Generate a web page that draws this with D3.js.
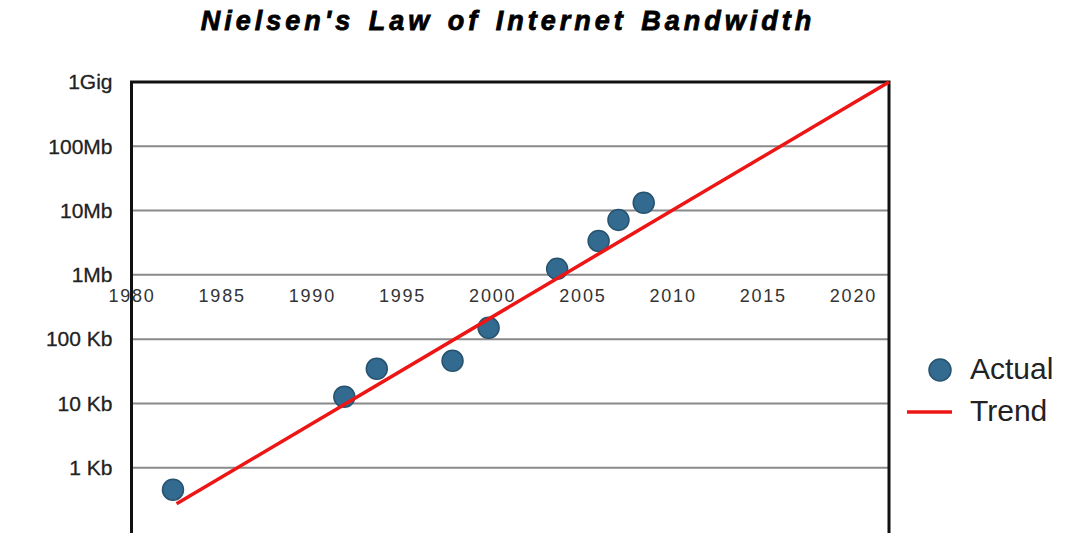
<!DOCTYPE html>
<html>
<head>
<meta charset="utf-8">
<script src="https://cdn.jsdelivr.net/npm/d3@7"></script>
<style>
  html, body { margin: 0; padding: 0; background: #fff; }
  svg { display: block; }
</style>
</head>
<body>
<svg id="chart" width="1074" height="533"></svg>
<script>
// ---- data ----
const actualYears  = [1982.3, 1991.8, 1993.6, 1997.8, 1999.8, 2003.6, 2005.9, 2007.0, 2008.4];
const actualValues = [455, 12700, 34600, 46000, 150000, 1240000, 3370000, 7160000, 13200000];
const trendYears   = [1982.5, 2022];
const trendValues  = [275, 1e9];
const yTickValues  = [1e3, 1e4, 1e5, 1e6, 1e7, 1e8, 1e9];
const yTickLabels  = ["1 Kb", "10 Kb", "100 Kb", "1Mb", "10Mb", "100Mb", "1Gig"];
const xTickValues  = [1980, 1985, 1990, 1995, 2000, 2005, 2010, 2015, 2020];
const titleText    = "Nielsen's Law of Internet Bandwidth";
const legendLabels = ["Actual", "Trend"];

// ---- layout ----
const svg = d3.select("#chart");
const plot = { left: 131.5, right: 889, top: 82, bottom: 532 };

const x = d3.scaleLinear().domain([1980, 2022]).range([plot.left, plot.right]);
const y = d3.scaleLog().domain([100, 1e9]).range([plot.bottom, plot.top]);

// gridlines
svg.append("g")
  .selectAll("line")
  .data(yTickValues.slice(0, -1))
  .join("line")
  .attr("x1", plot.left).attr("x2", plot.right)
  .attr("y1", d => y(d)).attr("y2", d => y(d))
  .attr("stroke", "#8a8a8a").attr("stroke-width", 2);

// y axis
const yAxis = d3.axisLeft(y)
  .tickValues(yTickValues)
  .tickFormat((d, i) => yTickLabels[i])
  .tickSize(0).tickPadding(19);
const gy = svg.append("g").attr("transform", `translate(${plot.left},0)`).call(yAxis);
gy.select(".domain").remove();
gy.selectAll("text")
  .attr("font-family", "Liberation Sans, Arial, sans-serif")
  .attr("font-size", 21)
  .attr("letter-spacing", 0)
  .attr("stroke", "#222").attr("stroke-width", 0.3)
  .attr("fill", "#222");

// x axis (labels placed just below the 1Mb line)
const xAxis = d3.axisBottom(x)
  .tickValues(xTickValues)
  .tickFormat(d3.format("d"))
  .tickSize(0);
const gx = svg.append("g").attr("transform", `translate(0,${y(1e6)})`).call(xAxis);
gx.select(".domain").remove();
gx.selectAll("text")
  .attr("y", 21).attr("dy", "0.35em")
  .attr("font-family", "Liberation Sans, Arial, sans-serif")
  .attr("font-size", 18)
  .attr("letter-spacing", 1.8)
  .attr("fill", "#333");

// plot border (left, top, right)
svg.append("path")
  .attr("d", `M${plot.left},${plot.bottom + 10}V${plot.top}H${plot.right}V${plot.bottom + 10}`)
  .attr("fill", "none").attr("stroke", "#111").attr("stroke-width", 3);

// actual points
svg.append("g")
  .selectAll("circle")
  .data(actualYears.map((yr, i) => ({ yr, v: actualValues[i] })))
  .join("circle")
  .attr("cx", d => x(d.yr)).attr("cy", d => y(d.v))
  .attr("r", 10.5)
  .attr("fill", "#336a90").attr("stroke", "#27536f").attr("stroke-width", 1.5);

// trend line
const line = d3.line().x(d => x(d.yr)).y(d => y(d.v));
svg.append("path")
  .datum(trendYears.map((yr, i) => ({ yr, v: trendValues[i] })))
  .attr("d", line)
  .attr("fill", "none").attr("stroke", "#ee1515").attr("stroke-width", 3.5);

// title
svg.append("text")
  .attr("x", 508).attr("y", 23)
  .attr("text-anchor", "middle").attr("dominant-baseline", "middle")
  .attr("font-family", "Liberation Sans, Arial, sans-serif")
  .attr("font-size", 27).attr("font-weight", "bold").attr("font-style", "italic")
  .attr("letter-spacing", 4).attr("word-spacing", 3)
  .attr("stroke", "#000").attr("stroke-width", 0.8)
  .attr("fill", "#000")
  .text(titleText);

// legend
const lg = svg.append("g");
lg.append("circle").attr("cx", 940).attr("cy", 370).attr("r", 11)
  .attr("fill", "#336a90").attr("stroke", "#27536f").attr("stroke-width", 1.5);
lg.append("line").attr("x1", 907).attr("x2", 952).attr("y1", 412).attr("y2", 412)
  .attr("stroke", "#ee1515").attr("stroke-width", 3.5);
lg.selectAll("text")
  .data(legendLabels)
  .join("text")
  .attr("x", 970).attr("y", (d, i) => 371 + i * 42)
  .attr("dominant-baseline", "middle")
  .attr("font-family", "Liberation Sans, Arial, sans-serif")
  .attr("font-size", 30)
  .attr("fill", "#222")
  .text(d => d);
</script>
</body>
</html>
